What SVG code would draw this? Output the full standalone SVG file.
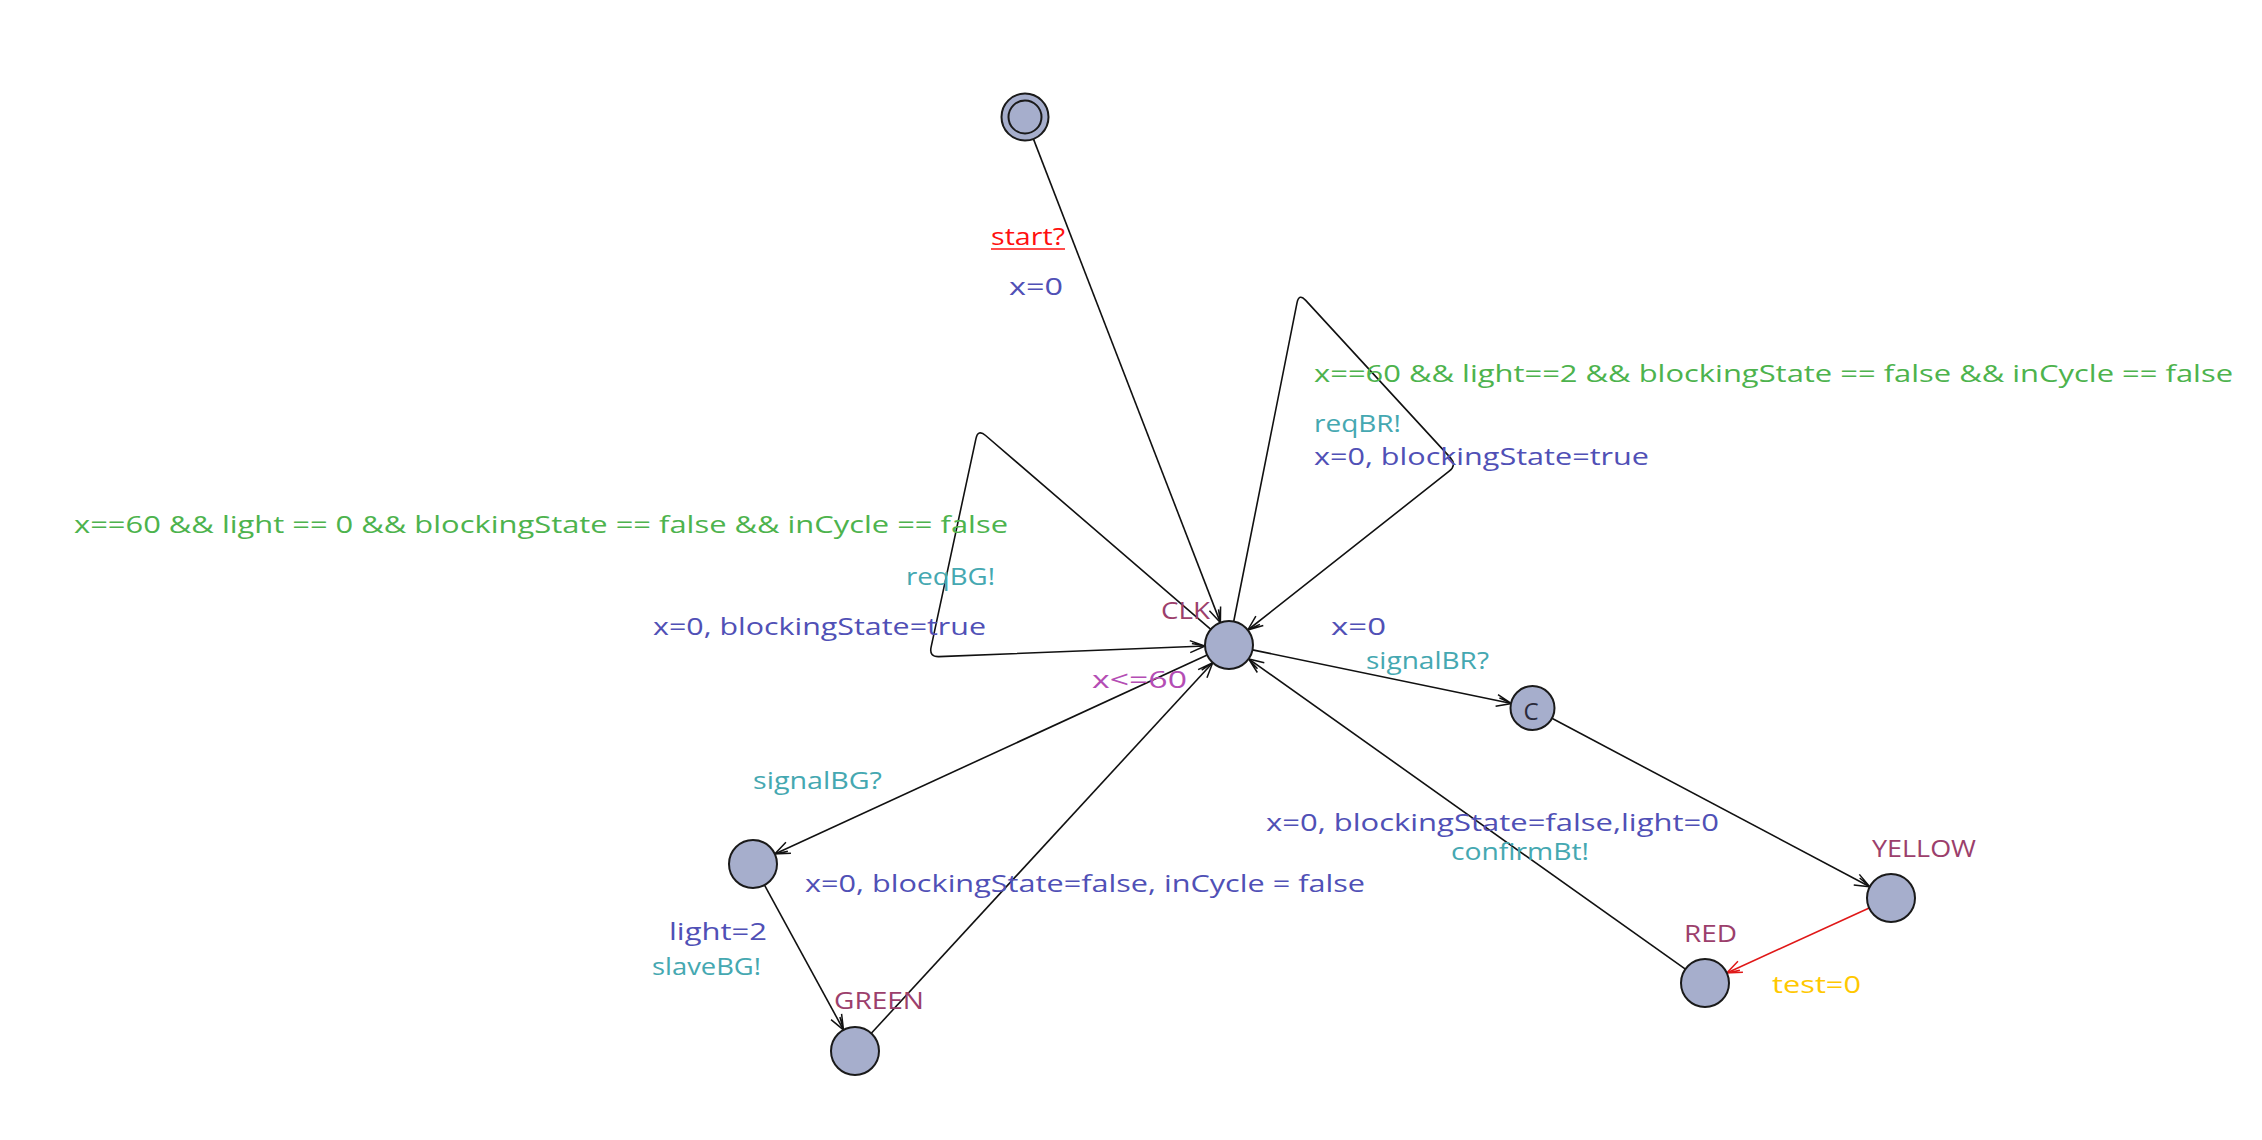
<svg xmlns="http://www.w3.org/2000/svg" width="2262" height="1140" viewBox="0 0 2262 1140">
<style>
.loc{fill:#a6aecc;stroke:#1a1a1a;stroke-width:2}
.edge{fill:none;stroke:#111;stroke-width:1.6}
.red{stroke:#e01818}
text{font-family:"Open Sans","Liberation Sans",Arial,sans-serif;font-size:24px}
.g{fill:#4db34d}
.s{fill:#45a8b1}
.a{fill:#5050b6}
.n{fill:#9c3f6c}
.i{fill:#b44db4}
.y{fill:#ffc800}
.st{fill:#ff1010}
</style>
<defs>
<marker id="arr" markerUnits="userSpaceOnUse" markerWidth="20" markerHeight="20" viewBox="-17 -10 20 20" refX="0" refY="0" orient="auto">
<path d="M-15,-6 L0,0 L-15,6 M-13,-3 L0,0" fill="none" stroke="#111" stroke-width="1.5"/>
</marker>
<marker id="arrR" markerUnits="userSpaceOnUse" markerWidth="20" markerHeight="20" viewBox="-17 -10 20 20" refX="0" refY="0" orient="auto">
<path d="M-15,-6 L0,0 L-15,6 M-13,-3 L0,0" fill="none" stroke="#e01818" stroke-width="1.5"/>
</marker>
</defs>
<rect width="2262" height="1140" fill="#fff"/>
<g id="connectors">
<line class="edge" x1="1033.6" y1="139.4" x2="1220.4" y2="622.6" marker-end="url(#arr)"/>
<path class="edge" d="M1233.7,621.5 L1297,302.8 Q1299,293 1305.7,300.4 L1450.3,457.6 Q1457,465 1449.2,471.2 L1247.8,630" marker-end="url(#arr)"/>
<path class="edge" d="M1210.8,629.3 L985.6,435.5 Q978,429 975.9,438.8 L931.1,647.2 Q929,657 939,656.6 L1205,646" marker-end="url(#arr)"/>
<line class="edge" x1="1252.5" y1="649.9" x2="1511.5" y2="703.5" marker-end="url(#arr)"/>
<line class="edge" x1="1551.9" y1="718.3" x2="1869.8" y2="886.7" marker-end="url(#arr)"/>
<line class="edge red" x1="1869.2" y1="908" x2="1726.8" y2="973" marker-end="url(#arrR)"/>
<line class="edge" x1="1685.4" y1="969.1" x2="1248.6" y2="658.9" marker-end="url(#arr)"/>
<line class="edge" x1="1207.2" y1="655" x2="774.8" y2="854" marker-end="url(#arr)"/>
<line class="edge" x1="764.5" y1="885.1" x2="843.5" y2="1029.9" marker-end="url(#arr)"/>
<line class="edge" x1="871.3" y1="1033.3" x2="1212.7" y2="662.7" marker-end="url(#arr)"/>
</g>
<g id="labels">
<text class="st" x="991" y="245" textLength="74" lengthAdjust="spacingAndGlyphs">start?</text>
<line x1="991" y1="249" x2="1065" y2="249" stroke="#ff1010" stroke-width="1.6"/>
<text class="a" x="1009" y="295" textLength="54" lengthAdjust="spacingAndGlyphs">x=0</text>
<text class="g" x="1314" y="382" textLength="919" lengthAdjust="spacingAndGlyphs">x==60 &amp;&amp; light==2 &amp;&amp; blockingState == false &amp;&amp; inCycle == false</text>
<text class="s" x="1314" y="432" textLength="87" lengthAdjust="spacingAndGlyphs">reqBR!</text>
<text class="a" x="1314" y="465" textLength="335" lengthAdjust="spacingAndGlyphs">x=0, blockingState=true</text>
<text class="g" x="74" y="533" textLength="934" lengthAdjust="spacingAndGlyphs">x==60 &amp;&amp; light == 0 &amp;&amp; blockingState == false &amp;&amp; inCycle == false</text>
<text class="s" x="906" y="585" textLength="89" lengthAdjust="spacingAndGlyphs">reqBG!</text>
<text class="a" x="653" y="635" textLength="333" lengthAdjust="spacingAndGlyphs">x=0, blockingState=true</text>
<text class="a" x="1331" y="635" textLength="55" lengthAdjust="spacingAndGlyphs">x=0</text>
<text class="s" x="1366" y="669" textLength="123" lengthAdjust="spacingAndGlyphs">signalBR?</text>
<text class="a" x="1266" y="831" textLength="453" lengthAdjust="spacingAndGlyphs">x=0, blockingState=false,light=0</text>
<text class="s" x="1451" y="860" textLength="138" lengthAdjust="spacingAndGlyphs">confirmBt!</text>
<text class="y" x="1772" y="993" textLength="89" lengthAdjust="spacingAndGlyphs">test=0</text>
<text class="s" x="753" y="789" textLength="129" lengthAdjust="spacingAndGlyphs">signalBG?</text>
<text class="a" x="805" y="892" textLength="560" lengthAdjust="spacingAndGlyphs">x=0, blockingState=false, inCycle = false</text>
<text class="a" x="669" y="940" textLength="98" lengthAdjust="spacingAndGlyphs">light=2</text>
<text class="s" x="652" y="975" textLength="109" lengthAdjust="spacingAndGlyphs">slaveBG!</text>
</g>
<g id="init">
<circle class="loc" cx="1025" cy="117" r="23.5"/>
<circle class="loc" cx="1025" cy="117" r="16.5"/>
</g>
<g id="CLK">
<circle class="loc" cx="1229" cy="645" r="24"/>
<text class="n" x="1161" y="619" textLength="49" lengthAdjust="spacingAndGlyphs">CLK</text>
<text class="i" x="1092" y="688" textLength="95" lengthAdjust="spacingAndGlyphs">x&lt;=60</text>
</g>
<g id="committed">
<circle class="loc" cx="1532.5" cy="708" r="22"/>
<text x="1531" y="720" text-anchor="middle" fill="#2a2a3a" font-size="25">C</text>
</g>
<g id="YELLOW">
<circle class="loc" cx="1891" cy="898" r="24"/>
<text class="n" x="1872" y="857" textLength="104" lengthAdjust="spacingAndGlyphs">YELLOW</text>
</g>
<g id="RED">
<circle class="loc" cx="1705" cy="983" r="24"/>
<text class="n" x="1684" y="942" textLength="53" lengthAdjust="spacingAndGlyphs">RED</text>
</g>
<g id="left">
<circle class="loc" cx="753" cy="864" r="24"/>
</g>
<g id="GREEN">
<circle class="loc" cx="855" cy="1051" r="24"/>
<text class="n" x="834" y="1009" textLength="90" lengthAdjust="spacingAndGlyphs">GREEN</text>
</g>
</svg>
